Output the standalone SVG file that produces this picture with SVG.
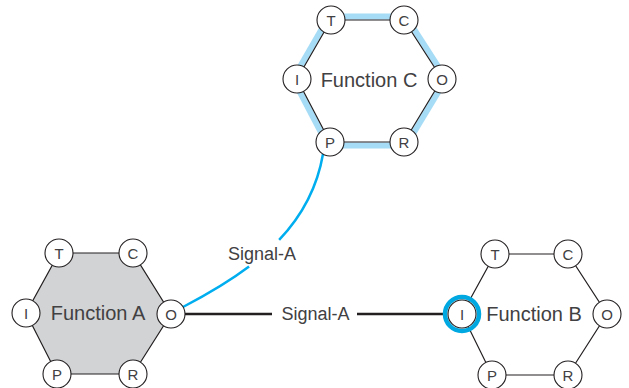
<svg xmlns="http://www.w3.org/2000/svg" width="629" height="388" viewBox="0 0 629 388">
  <style>
    .hex { fill: none; stroke: #231f20; stroke-width: 1.2; }
    .hexA { fill: #d1d3d4; stroke: #231f20; stroke-width: 1.2; }
    .band { stroke: #a6dcf5; stroke-width: 6; fill: none; }
    .port { fill: #ffffff; stroke: #231f20; stroke-width: 1.1; }
    .plabel { font-family: "Liberation Sans", Arial, sans-serif; font-size: 15px; fill: #414042; text-anchor: middle; }
    .title { font-family: "Liberation Sans", Arial, sans-serif; font-size: 20px; fill: #414042; text-anchor: middle; }
    .sig { font-family: "Liberation Sans", Arial, sans-serif; font-size: 18px; fill: #414042; text-anchor: middle; }
    .wire { fill: none; stroke: #231f20; stroke-width: 2.5; }
    .blue { fill: none; stroke: #00aeef; stroke-width: 2.5; }
  </style>

  <!-- connectors -->
  <g id="connectors">
    <path class="blue" d="M183,307 C206.45,294.75 229.04,281.64 249.06,266.52"/>
    <path class="blue" d="M279.12,239.93 C301.09,216.73 317.02,188.96 323,154"/>
    <text class="sig" x="262" y="260">Signal-A</text>
    <path class="wire" d="M185,314 H272"/>
    <path class="wire" d="M357,314 H446"/>
    <text class="sig" x="315.5" y="320">Signal-A</text>
  </g>

  <!-- Function A -->
  <g id="function-a">
    <polygon class="hexA" points="59,253 133,253 171,314 133,374 57,374 26,313"/>
    <text class="title" x="98" y="320">Function A</text>
    <circle class="port" cx="59" cy="253" r="14"/><text class="plabel" x="59" y="258.5">T</text>
    <circle class="port" cx="133" cy="253" r="14"/><text class="plabel" x="133" y="258.5">C</text>
    <circle class="port" cx="26" cy="313" r="14"/><text class="plabel" x="26" y="318.5">I</text>
    <circle class="port" cx="171" cy="314" r="14"/><text class="plabel" x="171" y="319.5">O</text>
    <circle class="port" cx="57" cy="374" r="14"/><text class="plabel" x="57" y="379.5">P</text>
    <circle class="port" cx="133" cy="374" r="14"/><text class="plabel" x="133" y="379.5">R</text>
  </g>

  <!-- Function B -->
  <g id="function-b">
    <polygon class="hex" points="495,254 568,254 607,314 568,375 492,375 462,314"/>
    <text class="title" x="534" y="321">Function B</text>
    <circle class="port" cx="495" cy="254" r="14"/><text class="plabel" x="495" y="259.5">T</text>
    <circle class="port" cx="568" cy="254" r="14"/><text class="plabel" x="568" y="259.5">C</text>
    <circle fill="none" stroke="#00a8e1" stroke-width="4.5" cx="462" cy="314" r="17"/>
    <circle class="port" cx="462" cy="314" r="14"/><text class="plabel" x="462" y="319.5">I</text>
    <circle class="port" cx="607" cy="314" r="14"/><text class="plabel" x="607" y="319.5">O</text>
    <circle class="port" cx="492" cy="375" r="14"/><text class="plabel" x="492" y="380.5">P</text>
    <circle class="port" cx="568" cy="375" r="14"/><text class="plabel" x="568" y="380.5">R</text>
  </g>

  <!-- Function C -->
  <g id="function-c">
    <g class="band">
      <line x1="331" y1="16.5" x2="404" y2="16.5"/>
      <line x1="406.9" y1="18.1" x2="444.9" y2="77.1"/>
      <line x1="445" y1="80.8" x2="407" y2="143.8"/>
      <line x1="404" y1="145.5" x2="330" y2="145.5"/>
      <line x1="326.9" y1="143.6" x2="293.9" y2="80.6"/>
      <line x1="294" y1="77.3" x2="328" y2="18.3"/>
    </g>
    <polygon class="hex" points="331,20 404,20 442,79 404,142 330,142 297,79"/>
    <text class="title" x="369" y="87">Function C</text>
    <circle class="port" cx="331" cy="20" r="14"/><text class="plabel" x="331" y="25.5">T</text>
    <circle class="port" cx="404" cy="20" r="14"/><text class="plabel" x="404" y="25.5">C</text>
    <circle class="port" cx="297" cy="79" r="14"/><text class="plabel" x="297" y="84.5">I</text>
    <circle class="port" cx="442" cy="79" r="14"/><text class="plabel" x="442" y="84.5">O</text>
    <circle class="port" cx="330" cy="142" r="14"/><text class="plabel" x="330" y="147.5">P</text>
    <circle class="port" cx="404" cy="142" r="14"/><text class="plabel" x="404" y="147.5">R</text>
  </g>
</svg>
